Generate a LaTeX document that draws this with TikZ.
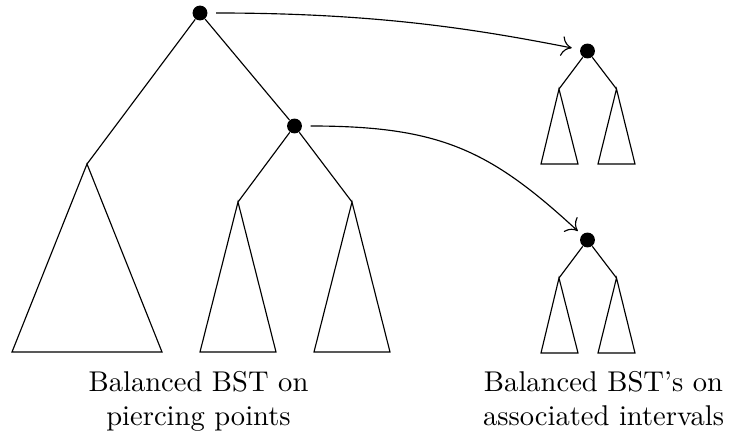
\documentclass[tikz,border=0pt]{standalone}
\usetikzlibrary{arrows.meta}
\begin{document}
\begin{tikzpicture}[x=0.35pt,y=-0.35pt,
  dot/.style={circle,fill=black,inner sep=0pt,minimum size=5.2pt},
  edge/.style={draw=black,line width=0.4pt},
  link/.style={draw=black,line width=0.4pt,-{To[length=3.6pt,width=7pt]}},
  caption/.style={align=center,anchor=north,inner sep=0pt,font=\normalsize}]
\useasboundingbox (0,0) rectangle (731,437);

% main tree
\node[dot] (r) at (200,13) {};
\node[dot] (b) at (294.5,126) {};
\coordinate (l) at (87,164);
\coordinate (bl) at (238,202);
\coordinate (br) at (352,202);
\draw[edge] (r) -- (l);
\draw[edge] (r) -- (b);
\draw[edge] (b) -- (bl);
\draw[edge] (b) -- (br);
\coordinate (l1) at (12,352);   \coordinate (l2) at (162,352);
\coordinate (bl1) at (200,352); \coordinate (bl2) at (276,352);
\coordinate (br1) at (314,352); \coordinate (br2) at (390,352);
\draw[edge] (l) -- (l1) -- (l2) -- cycle;
\draw[edge] (bl) -- (bl1) -- (bl2) -- cycle;
\draw[edge] (br) -- (br1) -- (br2) -- cycle;

% upper associated tree
\node[dot] (u) at (587.5,51) {};
\coordinate (ul) at (559,89);
\coordinate (ur) at (616.5,89);
\draw[edge] (u) -- (ul);
\draw[edge] (u) -- (ur);
\coordinate (ul1) at (541,164); \coordinate (ul2) at (578,164);
\coordinate (ur1) at (598,164); \coordinate (ur2) at (635,164);
\draw[edge] (ul) -- (ul1) -- (ul2) -- cycle;
\draw[edge] (ur) -- (ur1) -- (ur2) -- cycle;

% lower associated tree
\node[dot] (w) at (587.5,240) {};
\coordinate (wl) at (559,278);
\coordinate (wr) at (616.5,278);
\draw[edge] (w) -- (wl);
\draw[edge] (w) -- (wr);
\coordinate (wl1) at (541,353); \coordinate (wl2) at (578,353);
\coordinate (wr1) at (598,353); \coordinate (wr2) at (635,353);
\draw[edge] (wl) -- (wl1) -- (wl2) -- cycle;
\draw[edge] (wr) -- (wr1) -- (wr2) -- cycle;

% links
\draw[link,shorten <=2.8pt,shorten >=2.8pt] (r) .. controls (380,13) and (480,30) .. (u);
\draw[link,shorten <=2.8pt,shorten >=1.8pt] (b) .. controls (440,126) and (490,150) .. (w);

% captions
\node[caption] (c1) at (198.5,371) {Balanced BST on\\piercing points};
\node[caption] (c2) at (603.5,371) {Balanced BST's on\\associated intervals};
\end{tikzpicture}
\end{document}
